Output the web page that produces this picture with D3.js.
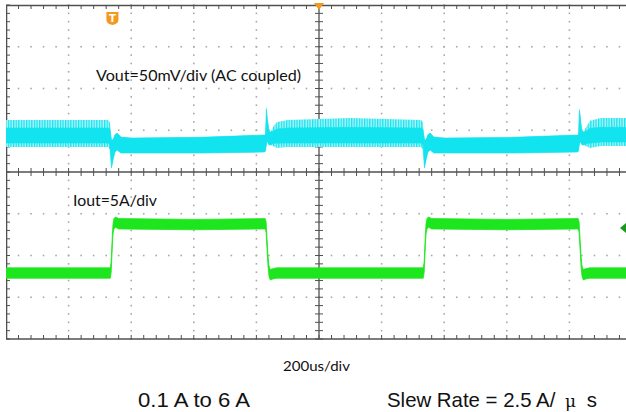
<!DOCTYPE html>
<html>
<head>
<meta charset="utf-8">
<script src="https://cdn.jsdelivr.net/npm/d3@7"></script>
<style>
body { margin: 0; background: white; }
svg { display: block; }
</style>
</head>
<body>
<script>
// time base: microseconds, 200 us per division, 10 divisions
let timeSpan = [0, 2000]
let usPerDiv = 200
let divRows = [-4, 4]
let trigTime = 340

// Vout, AC coupled, mV (outer = ripple spikes, core = dense band)
let vTime    = [0, 326, 332, 337, 342, 348, 355, 367, 400, 620, 826, 829, 832, 835, 840, 845, 856, 866, 900,
                1100, 1326, 1332, 1337, 1342, 1348, 1355, 1367, 1400, 1620, 1826, 1829, 1832, 1835, 1840, 1845, 1856, 1866, 1900, 2000]
let vOuterHi = [16.8, 16.8, 14, -7, -7, -1, 1.2, -3.6, -4.8, -4, -1.2, -1.2, 34, 22, 4, 2.4, 10, 14.4, 16.8,
                19.2, 16.8, 14, -7, -7, -1, 1.2, -3.6, -4.8, -4, -1.2, -1.2, 33, 22, 4, 2.4, 10, 16, 19.2, 19.2]
let vOuterLo = [-15.6, -15.6, -19, -40.7, -31, -21.6, -19.2, -22.8, -22.8, -22.8, -21.6, -20.4, -14, -10, -13, -13.2, -15, -16.8, -15.6,
                -15.6, -15.6, -19, -40.7, -31, -21.6, -19.2, -22.8, -22.8, -22.8, -21.6, -20.4, -14, -10, -13, -13.2, -15, -16.8, -14.4, -14.4]
let vCoreHi  = [7.2, 7.2, 6, -7, -7, -1, 1.2, -3.6, -4.8, -4, -1.2, -1.2, 30, 18, 4, 2.4, 4, 6, 7.2,
                8, 7.2, 6, -7, -7, -1, 1.2, -3.6, -4.8, -4, -1.2, -1.2, 29, 18, 4, 2.4, 4, 7, 8, 8]
let vCoreLo  = [-10.8, -10.8, -13, -40.7, -31, -21.6, -19.2, -22.8, -22.8, -22.8, -21.6, -20.4, -12, -8, -13, -13.2, -11, -11, -10.8,
                -10.8, -10.8, -13, -40.7, -31, -21.6, -19.2, -22.8, -22.8, -22.8, -21.6, -20.4, -12, -8, -13, -13.2, -11, -11, -9.6, -9.6]

// Iout, A
let iTime  = [0, 333, 336, 338, 340, 342, 345, 350, 360, 600, 828, 831, 834, 837, 840, 844, 852, 865,
              1333, 1336, 1338, 1340, 1342, 1345, 1350, 1360, 1600, 1828, 1831, 1834, 1837, 1840, 1844, 1852, 1865, 2000]
let iLevel = [0.1, 0.1, 0.8, 2.5, 4.2, 5.4, 6.0, 6.2, 6.0, 5.9, 6.0, 5.6, 3.6, 1.6, 0.4, -0.1, 0.0, 0.1,
              0.1, 0.8, 2.5, 4.2, 5.4, 6.0, 6.2, 6.0, 5.9, 6.0, 5.6, 3.6, 1.6, 0.4, -0.1, 0.0, 0.1, 0.1]
let iRipple = 0.62

let vLabel = "Vout=50mV/div (AC coupled)"
let iLabel = "Iout=5A/div"
let timeLabel = "200us/div"
let stepLabel = "0.1 A to 6 A"
let slewLabel = ["Slew Rate = 2.5 A/ ", "μ", " s"]

let width = 626
let height = 412
let padL = 6, padT = 5, padB = 339
let vOffset = 0.91, vPerDiv = 50
let iOffset = -2.44, iPerDiv = 5
let cyan = "#12e4ef"
let green = "#1ee61e"
let frameColor = "#505050"
let dotColor = "#a8a8a8"

let x = d3.scaleLinear().domain(timeSpan).range([padL, padL + 626])
let yDiv = d3.scaleLinear().domain(divRows).range([padB, padT])
let yV = d3.scaleLinear()
    .domain(divRows.map(d => (d - vOffset) * vPerDiv))
    .range([padB, padT])
let yI = d3.scaleLinear()
    .domain(divRows.map(d => (d - iOffset) * iPerDiv))
    .range([padB, padT])

let svg = d3.select("body").append("svg")
    .attr("width", width)
    .attr("height", height)

let defs = svg.append("defs")
defs.append("clipPath").attr("id", "screen")
    .append("rect")
    .attr("x", padL).attr("y", padT - 1)
    .attr("width", width - padL).attr("height", padB - padT + 2)
let pat = defs.append("pattern").attr("id", "ripple")
    .attr("patternUnits", "userSpaceOnUse")
    .attr("width", 2.6).attr("height", 10)
pat.append("rect").attr("width", 2.6).attr("height", 10).attr("fill", "#b5f5f9")
pat.append("rect").attr("width", 1.3).attr("height", 10).attr("fill", cyan)

let screen = svg.append("g").attr("clip-path", "url(#screen)")

// dotted graticule
let majorX = d3.range(timeSpan[0], timeSpan[1] + 1, usPerDiv)
let minorX = d3.range(timeSpan[0], timeSpan[1] + 1, usPerDiv / 5)
let majorY = d3.range(divRows[0], divRows[1] + 0.01, 1)
let minorY = d3.range(divRows[0], divRows[1] + 0.01, 0.2)

let dots = []
majorX.filter(t => t != 1000 && t != 0).forEach(t => minorY.forEach(r => dots.push([x(t), yDiv(r)])))
majorY.filter(r => r != 0 && Math.abs(r) != 4).forEach(r => minorX.forEach(t => dots.push([x(t), yDiv(r)])))
screen.append("g").selectAll("rect").data(dots).join("rect")
    .attr("x", d => d[0] - 0.8).attr("y", d => d[1] - 0.8)
    .attr("width", 1.6).attr("height", 1.6)
    .attr("fill", dotColor)

// frame and centre cross with ticks
let frame = screen.append("g").attr("stroke", frameColor).attr("fill", "none")
frame.append("line").attr("x1", padL).attr("x2", width).attr("y1", padT + 0.5).attr("y2", padT + 0.5).attr("stroke-width", 1.6)
frame.append("line").attr("x1", padL).attr("x2", width).attr("y1", padB).attr("y2", padB).attr("stroke-width", 1.6)
frame.append("line").attr("x1", padL + 0.5).attr("x2", padL + 0.5).attr("y1", padT).attr("y2", padB).attr("stroke-width", 1.6)
frame.append("line").attr("x1", padL).attr("x2", width).attr("y1", yDiv(0)).attr("y2", yDiv(0)).attr("stroke-width", 1.3)
frame.append("line").attr("x1", x(1000)).attr("x2", x(1000)).attr("y1", padT).attr("y2", padB).attr("stroke-width", 1.3)

frame.selectAll(".tx").data(minorX).join("path")
    .attr("stroke-width", 1)
    .attr("d", t => `M${x(t)},${yDiv(0) - 4}V${yDiv(0) + 4}M${x(t)},${padT}V${padT + 4}M${x(t)},${padB}V${padB - 4}`)
frame.selectAll(".ty").data(minorY).join("path")
    .attr("stroke-width", 1)
    .attr("d", r => `M${x(1000) - 4},${yDiv(r)}H${x(1000) + 4}M${padL},${yDiv(r)}H${padL + 4}`)

// Vout trace
let vData = vTime.map((t, k) => ({ t: t, oh: vOuterHi[k], ol: vOuterLo[k], ch: vCoreHi[k], cl: vCoreLo[k] }))
screen.append("path").datum(vData)
    .attr("fill", "url(#ripple)")
    .attr("d", d3.area().x(d => x(d.t)).y0(d => yV(d.ol)).y1(d => yV(d.oh)))
screen.append("path").datum(vData)
    .attr("fill", cyan)
    .attr("stroke", cyan)
    .attr("stroke-width", 0.6)
    .attr("d", d3.area().x(d => x(d.t)).y0(d => yV(d.cl)).y1(d => yV(d.ch)))

// Iout trace
let iData = iTime.map((t, k) => ({ t: t, a: iLevel[k] }))
screen.append("path").datum(iData)
    .attr("fill", green)
    .attr("stroke", green)
    .attr("stroke-width", 0.8)
    .attr("d", d3.area().x(d => x(d.t)).y0(d => yI(d.a - iRipple)).y1(d => yI(d.a + iRipple)))

// markers
let tx = x(trigTime)
svg.append("path")
    .attr("d", `M${tx - 6},12H${tx + 6}V20Q${tx + 6},24 ${tx},25Q${tx - 6},24 ${tx - 6},20Z`)
    .attr("fill", "#f39a1e")
svg.append("text").attr("x", tx).attr("y", 22)
    .attr("text-anchor", "middle")
    .attr("font-family", "DejaVu Sans").attr("font-weight", "bold")
    .attr("font-size", 10).attr("fill", "white")
    .text("T")
svg.append("path")
    .attr("d", `M${x(1000) - 5},3H${x(1000) + 5}L${x(1000)},10Z`)
    .attr("fill", "#f39a1e")
svg.append("path")
    .attr("d", `M620,${yI(5.5)}L626,${yI(5.5) - 5}V${yI(5.5) + 5}Z`)
    .attr("fill", "#1a9a1a")

// labels
svg.append("text").attr("x", 96).attr("y", 81)
    .attr("font-family", "Lato").attr("font-size", 15.5).attr("fill", "#111")
    .attr("textLength", 205).attr("lengthAdjust", "spacingAndGlyphs")
    .text(vLabel)
svg.append("text").attr("x", 73).attr("y", 206)
    .attr("font-family", "Lato").attr("font-size", 15.5).attr("fill", "#111")
    .attr("textLength", 84).attr("lengthAdjust", "spacingAndGlyphs")
    .text(iLabel)
svg.append("text").attr("x", 283).attr("y", 371)
    .attr("font-family", "Lato").attr("font-size", 13).attr("fill", "#111")
    .attr("textLength", 67).attr("lengthAdjust", "spacingAndGlyphs")
    .text(timeLabel)
svg.append("text").attr("x", 138).attr("y", 407)
    .attr("font-family", "Liberation Sans").attr("font-size", 20).attr("fill", "#111")
    .attr("textLength", 112).attr("lengthAdjust", "spacingAndGlyphs")
    .text(stepLabel)
let slew = svg.append("text").attr("x", 387).attr("y", 407)
    .attr("font-family", "Liberation Sans").attr("font-size", 20.4).attr("fill", "#111")
slew.append("tspan").text(slewLabel[0])
slew.append("tspan").attr("dx", 4).attr("font-family", "DejaVu Serif").attr("font-size", 17).text(slewLabel[1])
slew.append("tspan").attr("dx", 5).text(slewLabel[2])
</script>
</body>
</html>
